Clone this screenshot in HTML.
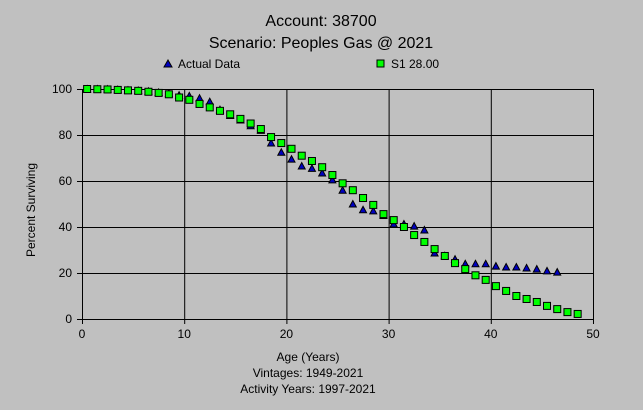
<!DOCTYPE html>
<html><head><style>
body{margin:0;background:#c0c0c0;}
svg{display:block;font-family:"Liberation Sans",Arial,sans-serif;}
</style></head><body>
<svg id="s" width="643" height="410" xmlns="http://www.w3.org/2000/svg">
<rect width="643" height="410" fill="#c0c0c0"/>
<text x="321" y="26" font-size="16" text-anchor="middle">Account: 38700</text>
<text x="321" y="48" font-size="16" text-anchor="middle">Scenario: Peoples Gas @ 2021</text>
<polygon points="164,67 168,60 172,67" fill="#0000c0" stroke="#000" stroke-width="1"/>
<text x="178" y="68" font-size="12">Actual Data</text>
<rect x="377" y="60" width="7" height="7" fill="#00ff00" stroke="#000"/>
<text x="391" y="68" font-size="12">S1 28.00</text>
<g id="grid" stroke="#000" stroke-width="1"></g>
<g id="lbl" font-size="12"></g>
<text transform="translate(35,210) rotate(-90)" font-size="12" text-anchor="middle">Percent Surviving</text>
<text x="308" y="361" font-size="12" text-anchor="middle">Age (Years)</text>
<text x="308" y="377" font-size="12" text-anchor="middle">Vintages: 1949-2021</text>
<text x="308" y="393" font-size="12" text-anchor="middle">Activity Years: 1997-2021</text>
<g id="tri"></g><g id="sq"></g>
</svg>
<script>
var ns="http://www.w3.org/2000/svg";
function X(a){return 82+a*10.22;}function Y(v){return 319-v*2.3;}
function el(p,t,a){var e=document.createElementNS(ns,t);for(var k in a)e.setAttribute(k,a[k]);document.getElementById(p).appendChild(e);return e;}
for(var i=0;i<=5;i++){var x=X(i*10);el("grid","line",{x1:x+.5,y1:89,x2:x+.5,y2:324});
var t=el("lbl","text",{x:x,y:338,"text-anchor":"middle"});t.textContent=i*10;}
for(var i=0;i<=5;i++){var y=Y(i*20);el("grid","line",{x1:77,y1:y+.5,x2:593,y2:y+.5});
var t=el("lbl","text",{x:72,y:y+4,"text-anchor":"end"});t.textContent=i*20;}
var S=[100,99.9,99.8,99.6,99.4,99.2,98.8,98.3,97.7,96.3,95.3,93.5,92,90.5,89,87,85,82.6,79.1,76.5,74,71,68.7,66,62.6,59,56,52.6,49.6,45.6,43,40,36.5,33.5,30.4,27.4,24.3,21.7,19,17,14.3,12.2,10,8.7,7.4,5.7,4.3,3,2.2];
var A=[100,100,99.9,99.7,99.5,99.3,99,98.5,98,97.3,97,96,94.5,91,88.5,86.5,84,82,76.5,72.5,69.5,66.5,65.5,63.5,60.5,56,50,47.5,47,45,41.3,41.3,40.4,38.7,28.7,27.5,26,24,24,24,23,22.6,22.6,22.2,21.7,20.9,20.4];
A.forEach(function(v,i){var x=X(i+0.5),y=Y(v);el("tri","polygon",{points:(x-3.5)+","+(y+3)+" "+x+","+(y-3.5)+" "+(x+3.5)+","+(y+3),fill:"#0000c0",stroke:"#000","stroke-width":1});});
S.forEach(function(v,i){var x=X(i+0.5),y=Y(v);el("sq","rect",{x:x-3.5,y:y-3.5,width:7,height:7,fill:"#00ff00",stroke:"#000","stroke-width":1});});
</script>
</body></html>
